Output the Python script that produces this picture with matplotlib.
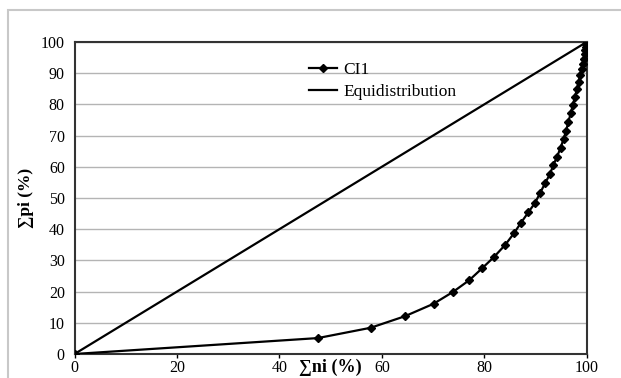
import matplotlib
matplotlib.use("Agg")
import matplotlib.pyplot as plt
from matplotlib.patches import Rectangle

plt.rcParams['font.family'] = ['Liberation Serif', 'DejaVu Serif']

# cumulative share of individuals (x) vs cumulative share of property (y), in %
ni = [0, 47.5, 57.8, 64.5, 70.1, 73.9, 77.1, 79.6, 81.9, 84.1, 85.8, 87.1,
      88.6, 89.9, 90.9, 91.9, 92.8, 93.5, 94.2, 94.9, 95.5, 96.0, 96.4, 96.9,
      97.3, 97.7, 98.1, 98.4, 98.7, 99.0, 99.2, 99.4, 99.6, 99.75, 99.85,
      99.93, 100]
pi = [0, 5.1, 8.4, 12.1, 16.1, 19.9, 23.7, 27.5, 31.1, 35.0, 38.7, 41.9,
      45.4, 48.4, 51.6, 54.8, 57.6, 60.6, 63.2, 66.1, 69.0, 71.6, 74.4, 77.2,
      79.9, 82.4, 84.9, 87.2, 89.3, 91.2, 93.0, 94.6, 96.1, 97.4, 98.5,
      99.4, 100]
equi = [0, 100]

xticks = [0, 20, 40, 60, 80, 100]
yticks = list(range(0, 101, 10))

fig = plt.figure(figsize=(6.21, 3.78), dpi=100)
ax = fig.add_axes([0.12, 0.0635, 0.8248, 0.8255])

# chart area border (cropped on right/bottom)
fig.patches.append(Rectangle((0.013, -0.05), 1.1, 1.024, transform=fig.transFigure,
                             fill=False, edgecolor='#c8c8c8', linewidth=1.5))

ax.plot(ni, pi, color='black', lw=1.6, marker='D', ms=4.5, label='CI1', zorder=3)
ax.plot(equi, equi, color='black', lw=1.6, label='Equidistribution', zorder=3)

ax.set_xlim(0, 100)
ax.set_ylim(0, 100)
ax.set_xticks(xticks)
ax.set_yticks(yticks)
ax.yaxis.grid(True, color='#b4b4b4', lw=1.0)
ax.set_axisbelow(True)
ax.tick_params(labelsize=11.5, length=3, width=1, direction='out')
ax.tick_params(axis='y', length=0, pad=7)
ax.tick_params(axis='x', pad=1)
for s in ax.spines.values():
    s.set_linewidth(1.5)
    s.set_color('#333333')

ax.set_ylabel('∑pi (%)', fontsize=12.5, fontweight='bold', labelpad=5)
ax.text(50, -5.9, '∑ni (%)', fontsize=13, fontweight='bold', ha='center', va='baseline',
        transform=ax.transData, clip_on=False)

ax.legend(loc='upper left', bbox_to_anchor=(0.428, 0.985), frameon=False,
          fontsize=12.5, handlelength=1.6, handletextpad=0.35, labelspacing=0.3)

fig.savefig('out.png', dpi=100)
